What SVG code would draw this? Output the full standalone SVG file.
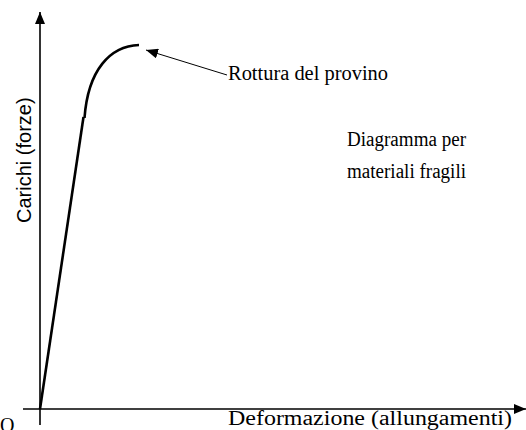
<svg xmlns="http://www.w3.org/2000/svg" width="526" height="430" viewBox="0 0 526 430">
<style>
.serif{font-family:"Liberation Serif","Times New Roman",serif;font-size:20px;fill:#000}
.sans{font-family:"Liberation Sans",Arial,sans-serif;font-size:20px;fill:#000}
.axis{stroke:#000;stroke-width:1.6;fill:none}
.curve{stroke:#000;stroke-width:2.6;fill:none}
.lead{stroke:#000;stroke-width:1;fill:none}
</style>
<defs>
<marker id="ah" viewBox="0 0 12 10" refX="12" refY="5" markerWidth="12" markerHeight="10" markerUnits="userSpaceOnUse" orient="auto">
<path d="M0,0 L12,5 L0,10 Z" fill="#000"/>
</marker>
</defs>
<rect width="526" height="430" fill="#fff"/>
<g id="axes">
<line class="axis" x1="40" y1="425" x2="40" y2="12" marker-end="url(#ah)"/>
<line class="axis" x1="23" y1="409" x2="526" y2="409" marker-end="url(#ah)"/>
</g>
<g id="curve">
<line class="curve" x1="40" y1="409" x2="83.5" y2="117"/>
<path class="curve" d="M84.5,118 C88,70 110,46 139,45"/>
</g>
<g id="connectors">
<line class="lead" x1="227" y1="75" x2="146" y2="50" marker-end="url(#ah)"/>
</g>
<g id="labels">
<text class="serif" x="228" y="80" textLength="160" lengthAdjust="spacingAndGlyphs">Rottura del provino</text>
<text class="serif" x="347" y="146" textLength="119" lengthAdjust="spacingAndGlyphs">Diagramma per</text>
<text class="serif" x="347" y="178" textLength="119" lengthAdjust="spacingAndGlyphs">materiali fragili</text>
<text class="serif" x="228" y="425" textLength="284" lengthAdjust="spacingAndGlyphs">Deformazione (allungamenti)</text>
<text class="serif" x="0" y="432">O</text>
<text class="sans" transform="translate(31,223) rotate(-90)">Carichi (forze)</text>
</g>
</svg>
